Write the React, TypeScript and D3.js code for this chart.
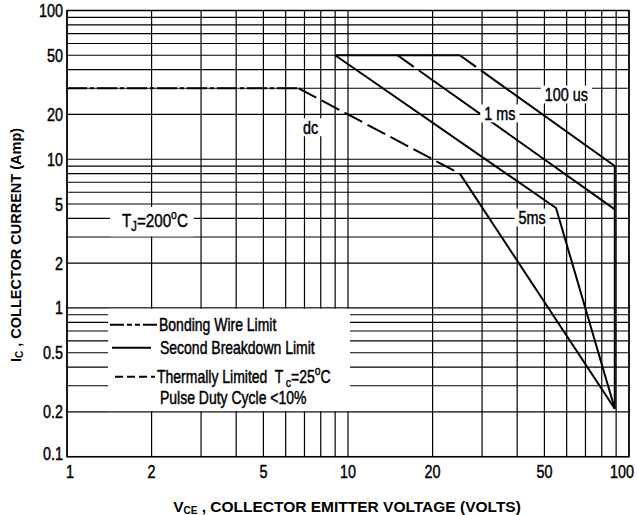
import React, { useEffect, useRef } from 'react';
import * as d3 from 'd3';

// tick labels
const xTicks = [1, 2, 5, 10, 20, 50, 100];
const yTicks = [0.1, 0.2, 0.5, 1, 2, 5, 10, 20, 50, 100];

// curve segments, [V_CE (V), I_C (A)]
const dcBondingWire = [[1, 30], [6.67, 30]];
const dcThermal = [[6.67, 30], [10, 20], [20, 10], [25, 8]];
const dcSecondBreakdown = [[25, 8], [89, 0.21]];
const pulseCurrentLimit = [[9, 50], [25, 50]];
const ms5SecondBreakdown = [[9, 50], [55, 4.7], [89, 0.21]];
const ms1Thermal = [[15, 50], [19.5, 35.2]];
const ms1SecondBreakdown = [[19.5, 35.2], [89, 4.6]];
const us100Thermal = [[25, 50], [32, 35.8]];
const us100SecondBreakdown = [[32, 35.8], [89, 9]];
const voltageLimit = [[89, 9], [89, 0.21]];

// curve labels: anchor V, baseline I
const curveLabels = [
  { text: '100 us', v: 59.9, i: 24.6 },
  { text: '1 ms', v: 34.7, i: 18.35 },
  { text: '5ms', v: 45.2, i: 3.66 },
  { text: 'dc', v: 7.36, i: 14.8 },
];

const FONT = "'Liberation Sans', Arial, sans-serif";
const SX = 0.8; // condensed look of the scanned datasheet font

export default function App() {
  const svgRef = useRef<SVGSVGElement>(null);

  useEffect(() => {
    if (!svgRef.current) return;
    const width = 637;
    const height = 515;
    const svg = d3.select(svgRef.current).attr('viewBox', [0, 0, width, height]);
    svg.selectAll('*').remove();

    const x = d3.scaleLog().domain([1, 100]).range([67, 629]);
    const y = d3.scaleLog().domain([0.1, 100]).range([456.7, 10.5]);

    // narrow text: group squeezed horizontally around its anchor
    const ntext = (parent: any, X: number, Y: number, anchor = 'start', size = 18) => {
      const g = parent.append('g').attr('transform', `translate(${X},${Y}) scale(${SX},1)`);
      const t = g.append('text')
        .attr('text-anchor', anchor)
        .attr('font-family', FONT)
        .attr('font-size', size)
        .attr('fill', '#000')
        .attr('stroke', '#000')
        .attr('stroke-width', 0.45)
        .attr('xml:space', 'preserve');
      return { g, t };
    };
    const backdrop = (g: any, t: any, padL: number, padR: number, padT = -1, padB = -1) => {
      const b = (t.node() as SVGTextElement).getBBox();
      g.insert('rect', 'text')
        .attr('x', b.x - padL / SX).attr('y', b.y - padT)
        .attr('width', b.width + (padL + padR) / SX).attr('height', b.height + padT + padB)
        .attr('fill', '#fff');
    };

    svg.append('rect').attr('width', width).attr('height', height).attr('fill', '#fff');

    // grid
    const grid = svg.append('g').attr('stroke', '#000').attr('stroke-width', 1.2);
    grid.selectAll('.vx')
      .data(x.ticks())
      .enter().append('line')
      .attr('x1', d => x(d)).attr('x2', d => x(d))
      .attr('y1', y(100)).attr('y2', y(0.1));
    grid.selectAll('.hy')
      .data(y.ticks())
      .enter().append('line')
      .attr('x1', x(1)).attr('x2', x(100))
      .attr('y1', d => y(d)).attr('y2', d => y(d));

    // legend box (white, between 1 A and 0.2 A lines)
    const lx0 = x(1.4);
    const lx1 = x(10) + 2;
    const ly0 = y(1) + 0.8;
    const ly1 = y(0.2) - 0.8;
    svg.append('rect')
      .attr('x', lx0).attr('y', ly0)
      .attr('width', lx1 - lx0).attr('height', ly1 - ly0)
      .attr('fill', '#fff');

    // curves
    const line = d3.line<number[]>().x(d => x(d[0])).y(d => y(d[1]));
    const curves = svg.append('g').attr('fill', 'none').attr('stroke', '#000').attr('stroke-width', 2);
    const solid = [dcSecondBreakdown, pulseCurrentLimit, ms5SecondBreakdown, ms1SecondBreakdown, us100SecondBreakdown, voltageLimit];
    const dashed = [dcThermal, ms1Thermal, us100Thermal];
    solid.forEach(s => curves.append('path').attr('d', line(s)));
    dashed.forEach(s => curves.append('path').attr('d', line(s)).attr('stroke-dasharray', '20,6'));
    curves.append('path').attr('d', line(dcBondingWire)).attr('stroke-dasharray', '20,3,4,3');

    // curve labels with white background
    const labels = svg.append('g');
    curveLabels.forEach(l => {
      const { g, t } = ntext(labels, x(l.v), y(l.i), 'middle');
      t.text(l.text);
      backdrop(g, t, 4, 4);
    });

    // T_J label
    const tj = ntext(labels, x(1.57), y(3.5), 'start', 19);
    tj.t.append('tspan').text('T');
    tj.t.append('tspan').attr('font-size', 14).attr('dy', 4).text('J');
    tj.t.append('tspan').attr('dy', -4).text('=200');
    tj.t.append('tspan').attr('font-size', 13).attr('dy', -8).text('o');
    tj.t.append('tspan').attr('dy', 8).text('C');
    backdrop(tj.g, tj.t, 12, 6, 0, 2);

    // legend
    const rows = [
      { dash: '14,3,5,3,5,3', text: 'Bonding Wire Limit', sx0: 110, sx1: 157, sy: 16, tx: 159, ty: 22 },
      { dash: null, text: 'Second Breakdown Limit', sx0: 112, sx1: 151, sy: 39, tx: 160, ty: 45 },
      { dash: '8,4', text: 'Thermally Limited  T', sx0: 115, sx1: 155, sy: 68, tx: 157, ty: 74 },
    ];
    rows.forEach(r => {
      const ln = svg.append('line')
        .attr('x1', r.sx0).attr('x2', r.sx1)
        .attr('y1', ly0 + r.sy).attr('y2', ly0 + r.sy)
        .attr('stroke', '#000').attr('stroke-width', 2);
      if (r.dash) ln.attr('stroke-dasharray', r.dash);
      const { t } = ntext(svg, r.tx, ly0 + r.ty, 'start', 17.5);
      t.append('tspan').text(r.text);
      if (r.text.startsWith('Thermally')) {
        t.append('tspan').attr('font-size', 13).attr('dy', 4).attr('dx', 3).text('c');
        t.append('tspan').attr('dy', -4).text('=25');
        t.append('tspan').attr('font-size', 13).attr('dy', -8).text('o');
        t.append('tspan').attr('dy', 8).text('C');
      }
    });
    ntext(svg, 160, ly0 + 95, 'start', 17.5).t.text('Pulse Duty Cycle <10%');

    // border
    svg.append('rect')
      .attr('x', x(1)).attr('y', y(100))
      .attr('width', x(100) - x(1)).attr('height', y(0.1) - y(100))
      .attr('fill', 'none').attr('stroke', '#000').attr('stroke-width', 1.5);

    // tick labels
    yTicks.forEach(d => {
      const { t } = ntext(svg, x(1) - 4, y(d) + (d === 0.1 ? 3.5 : 6.5), 'end');
      t.text(String(d));
    });
    xTicks.forEach((d, i) => {
      const dx = i === 0 ? 3 : i === xTicks.length - 1 ? -7 : 0;
      const { t } = ntext(svg, x(d) + dx, y(0.1) + 21, 'middle');
      t.text(String(d));
    });

    // axis titles
    const xt = svg.append('text')
      .attr('x', 347).attr('y', 512)
      .attr('text-anchor', 'middle')
      .attr('font-family', FONT).attr('font-weight', 'bold').attr('font-size', 15.5);
    xt.append('tspan').text('V');
    xt.append('tspan').attr('font-size', 10).attr('dy', 2).text('CE');
    xt.append('tspan').attr('dy', -2).text(' , COLLECTOR EMITTER VOLTAGE (VOLTS)');

    const yt = svg.append('text')
      .attr('transform', 'translate(21,245) rotate(-90)')
      .attr('text-anchor', 'middle')
      .attr('font-family', FONT).attr('font-weight', 'bold').attr('font-size', 14.5);
    yt.append('tspan').text('I');
    yt.append('tspan').attr('font-size', 10).attr('dy', 2).text('C');
    yt.append('tspan').attr('dy', -2).text(' , COLLECTOR CURRENT (Amp)');
  }, []);

  return (
    <div style={{ position: 'absolute', left: 0, top: 0 }}>
      <svg ref={svgRef} width={637} height={515} style={{ display: 'block' }}></svg>
    </div>
  );
}
